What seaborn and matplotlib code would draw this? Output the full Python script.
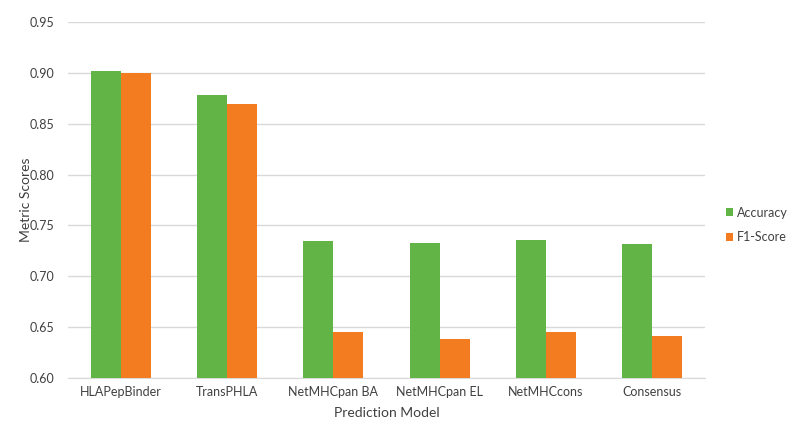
import pandas as pd
import matplotlib.pyplot as plt
import seaborn as sns

# values
models = ['HLAPepBinder', 'TransPHLA', 'NetMHCpan BA', 'NetMHCpan EL', 'NetMHCcons', 'Consensus']
accuracy = [0.902, 0.878, 0.735, 0.733, 0.736, 0.732]
f1_score = [0.900, 0.869, 0.645, 0.638, 0.645, 0.641]

df = pd.DataFrame({'Model': models * 2,
                   'Score': accuracy + f1_score,
                   'Metric': ['Accuracy'] * len(models) + ['F1-Score'] * len(models)})

sns.set_style('white')
plt.rcParams['font.family'] = ['Lato', 'DejaVu Sans']

fig = plt.figure(figsize=(7.92, 4.34), dpi=100)
ax = fig.add_axes([0.086, 0.129, 0.804, 0.82])

sns.barplot(data=df, x='Model', y='Score', hue='Metric', order=models,
            palette={'Accuracy': '#63b446', 'F1-Score': '#f47c20'},
            width=0.566, gap=0, saturation=1, linewidth=0, ax=ax, zorder=3)

# axis & grid styling
ax.set_ylim(0.60, 0.95)
ax.set_yticks([0.60, 0.65, 0.70, 0.75, 0.80, 0.85, 0.90, 0.95])
ax.set_yticklabels(['%.2f' % v for v in ax.get_yticks()])
ax.yaxis.grid(True, color='#d9d9d9', linewidth=1, zorder=0)
for s in ['top', 'right', 'left']:
  ax.spines[s].set_visible(False)
ax.spines['bottom'].set_color('#d9d9d9')
ax.tick_params(axis='both', length=0, labelsize=9, colors='#404040', pad=6)
ax.tick_params(axis='y', pad=10)
ax.set_xlim(-0.5, len(models) - 0.5)

ax.set_xlabel('Prediction Model', fontsize=10, color='#404040', labelpad=6)
ax.set_ylabel('Metric Scores', fontsize=10, color='#404040')
ax.yaxis.set_label_coords(-0.057, 0.5)

leg = ax.legend(loc='center left', bbox_to_anchor=(1.015, 0.43), frameon=False,
                fontsize=9, handlelength=0.6, handleheight=0.6, handletextpad=0.3,
                labelspacing=1.0)
for t in leg.get_texts():
  t.set_color('#404040')

fig.savefig('out.png', dpi=100)
